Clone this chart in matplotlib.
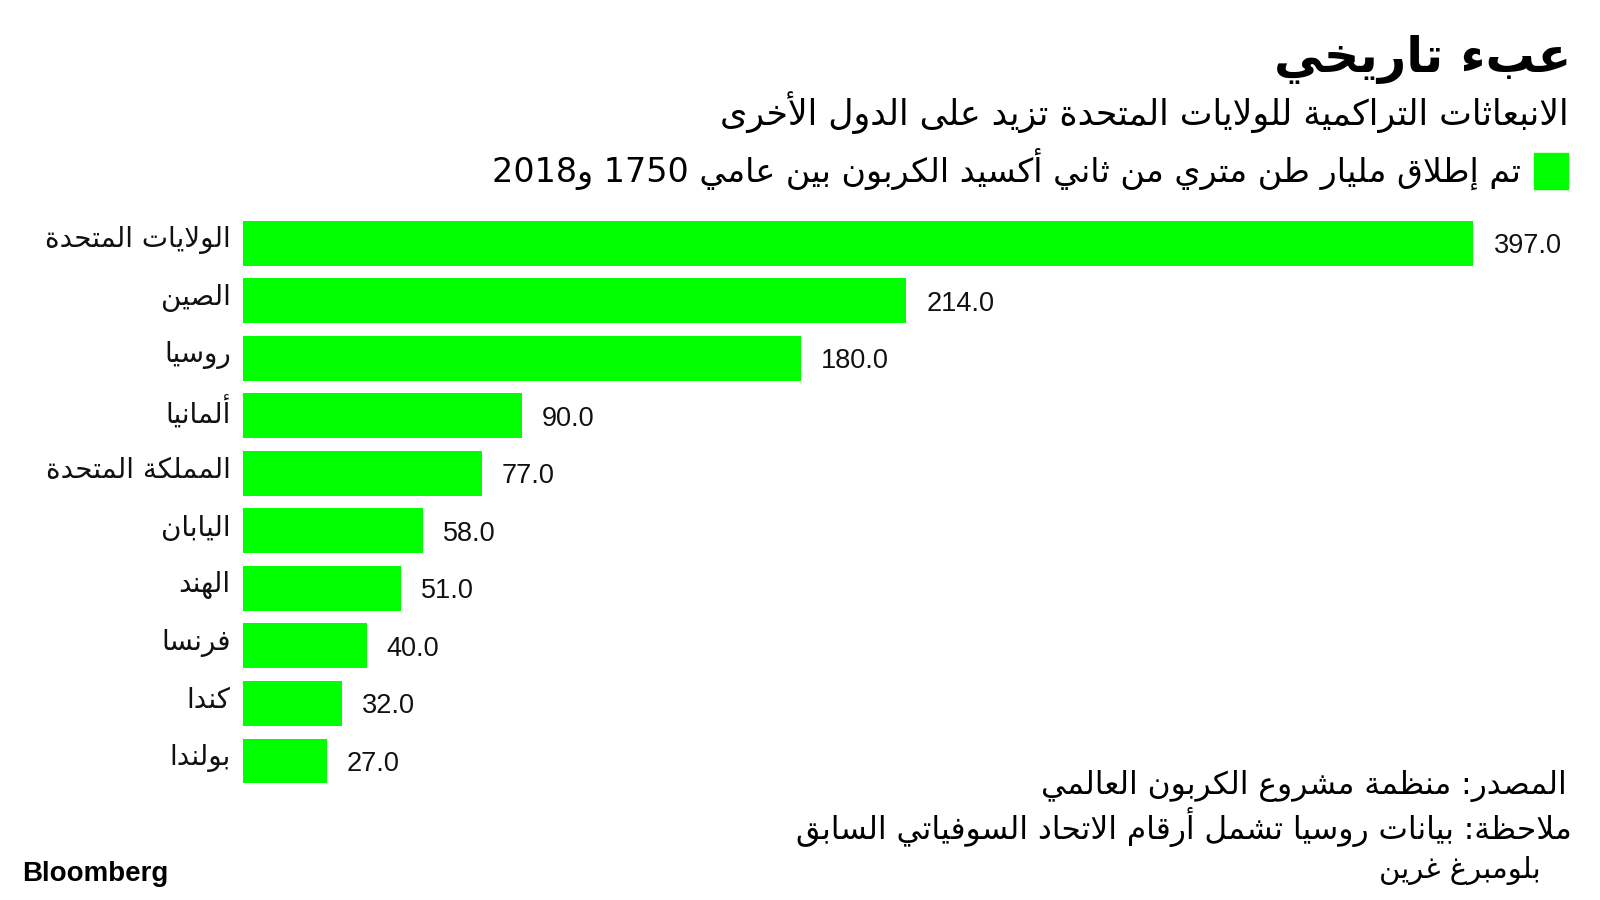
import re
import matplotlib
matplotlib.use("Agg")
import matplotlib.pyplot as plt
from matplotlib.patches import Rectangle

# data
countries = ["الولايات المتحدة", "الصين", "روسيا", "ألمانيا", "المملكة المتحدة",
             "اليابان", "الهند", "فرنسا", "كندا", "بولندا"]
emissions = [397.0, 214.0, 180.0, 90.0, 77.0, 58.0, 51.0, 40.0, 32.0, 27.0]

title = "عبء تاريخي"
subtitle = "الانبعاثات التراكمية للولايات المتحدة تزيد على الدول الأخرى"
legend_label = "تم إطلاق مليار طن متري من ثاني أكسيد الكربون بين عامي 1750 و2018"
source = "المصدر: منظمة مشروع الكربون العالمي"
note = "ملاحظة: بيانات روسيا تشمل أرقام الاتحاد السوفياتي السابق"
credit = "بلومبرغ غرين"

GREEN = "#00ff00"

# --- tiny arabic shaper (matplotlib draws glyphs without shaping) ---
# letter -> isolated form code point in Arabic Presentation Forms-B
_dual = {"ئ": 0xFE89, "ب": 0xFE8F, "ت": 0xFE95, "ث": 0xFE99, "ج": 0xFE9D,
         "ح": 0xFEA1, "خ": 0xFEA5, "س": 0xFEB1, "ش": 0xFEB5, "ص": 0xFEB9,
         "ض": 0xFEBD, "ط": 0xFEC1, "ظ": 0xFEC5, "ع": 0xFEC9, "غ": 0xFECD,
         "ف": 0xFED1, "ق": 0xFED5, "ك": 0xFED9, "ل": 0xFEDD, "م": 0xFEE1,
         "ن": 0xFEE5, "ه": 0xFEE9, "ي": 0xFEF1}
_right = {"آ": 0xFE81, "أ": 0xFE83, "ؤ": 0xFE85, "إ": 0xFE87, "ا": 0xFE8D,
          "ة": 0xFE93, "د": 0xFEA9, "ذ": 0xFEAB, "ر": 0xFEAD, "ز": 0xFEAF,
          "و": 0xFEED, "ى": 0xFEEF}
_lamalef = {"آ": 0xFEF5, "أ": 0xFEF7, "إ": 0xFEF9, "ا": 0xFEFB}


def _joins(c):
    return c in _dual or c in _right


def shape(s):
    out = []
    i = 0
    n = len(s)
    while i < n:
        c = s[i]
        prev = s[i - 1] if i > 0 else ""
        after_join = prev in _dual
        if c == "ل" and i + 1 < n and s[i + 1] in _lamalef:
            out.append(chr(_lamalef[s[i + 1]] + (1 if after_join else 0)))
            i += 2
            continue
        nxt = s[i + 1] if i + 1 < n else ""
        if c in _dual:
            before_join = _joins(nxt)
            base = _dual[c]
            if after_join and before_join:
                out.append(chr(base + 3))
            elif before_join:
                out.append(chr(base + 2))
            elif after_join:
                out.append(chr(base + 1))
            else:
                out.append(chr(base))
        elif c in _right:
            out.append(chr(_right[c] + (1 if after_join else 0)))
        elif c == "ء":
            out.append(chr(0xFE80))
        else:
            out.append(c)
        i += 1
    return "".join(out)


def ar(s):
    # shape, then lay out right-to-left keeping digit runs left-to-right
    shaped = shape(s)
    tokens = re.findall(r"[0-9.]+|[^0-9.]+", shaped)
    return "".join(t if re.match(r"[0-9]", t) else t[::-1] for t in reversed(tokens))


# positions measured on a 1568x882 view of the layout
def fx(px):
    return px / 1568


def fy(py):
    return 1 - py / 882


AR_FONT = "DejaVu Sans"
NUM_FONT = "Liberation Sans"

fig = plt.figure(figsize=(16, 9), dpi=100)
fig.patch.set_facecolor("white")

ax = fig.add_axes([fx(238), fy(774), fx(1444) - fx(238), fy(210) - fy(774)])
ypos = list(range(len(countries)))
ax.barh(ypos, emissions, height=0.78, color=GREEN)
ax.set_xlim(0, 397)
ax.set_ylim(len(countries) - 0.5, -0.5)
ax.axis("off")

for y, name, v in zip(ypos, countries, emissions):
    ax.annotate(ar(name), (0, y), xytext=(-12, 3), textcoords="offset pixels",
                ha="right", va="center", fontsize=20, family=AR_FONT, color="#111111")
    ax.annotate(f"{v:.1f}", (v, y), xytext=(20, -3), textcoords="offset pixels",
                ha="left", va="center", fontsize=19.5, family=NUM_FONT, color="#111111")

# header
fig.text(fx(1540), fy(58), ar(title), ha="right", va="center",
         fontsize=35.5, fontweight="bold", family=AR_FONT, color="black")
fig.text(fx(1537), fy(110), ar(subtitle), ha="right", va="center",
         fontsize=25, family=AR_FONT, color="black")
fig.patches.append(Rectangle((fx(1503), fy(185)), fx(1537) - fx(1503), fy(150) - fy(185),
                             transform=fig.transFigure, color=GREEN))
fig.text(fx(1490), fy(165), ar(legend_label), ha="right", va="center",
         fontsize=24, family=AR_FONT, color="black")

# footer
fig.text(fx(1535), fy(770), ar(source), ha="right", va="center",
         fontsize=22.5, family=AR_FONT, color="black")
fig.text(fx(1540), fy(810), ar(note), ha="right", va="center",
         fontsize=22.5, family=AR_FONT, color="black")
fig.text(fx(1510), fy(853), ar(credit), ha="right", va="center",
         fontsize=21, family=AR_FONT, color="black")
fig.text(fx(22), fy(857), "Bloomberg", ha="left", va="center",
         fontsize=20, fontweight="bold", family=NUM_FONT, color="black")

fig.savefig("out.png", dpi=100, facecolor="white")
